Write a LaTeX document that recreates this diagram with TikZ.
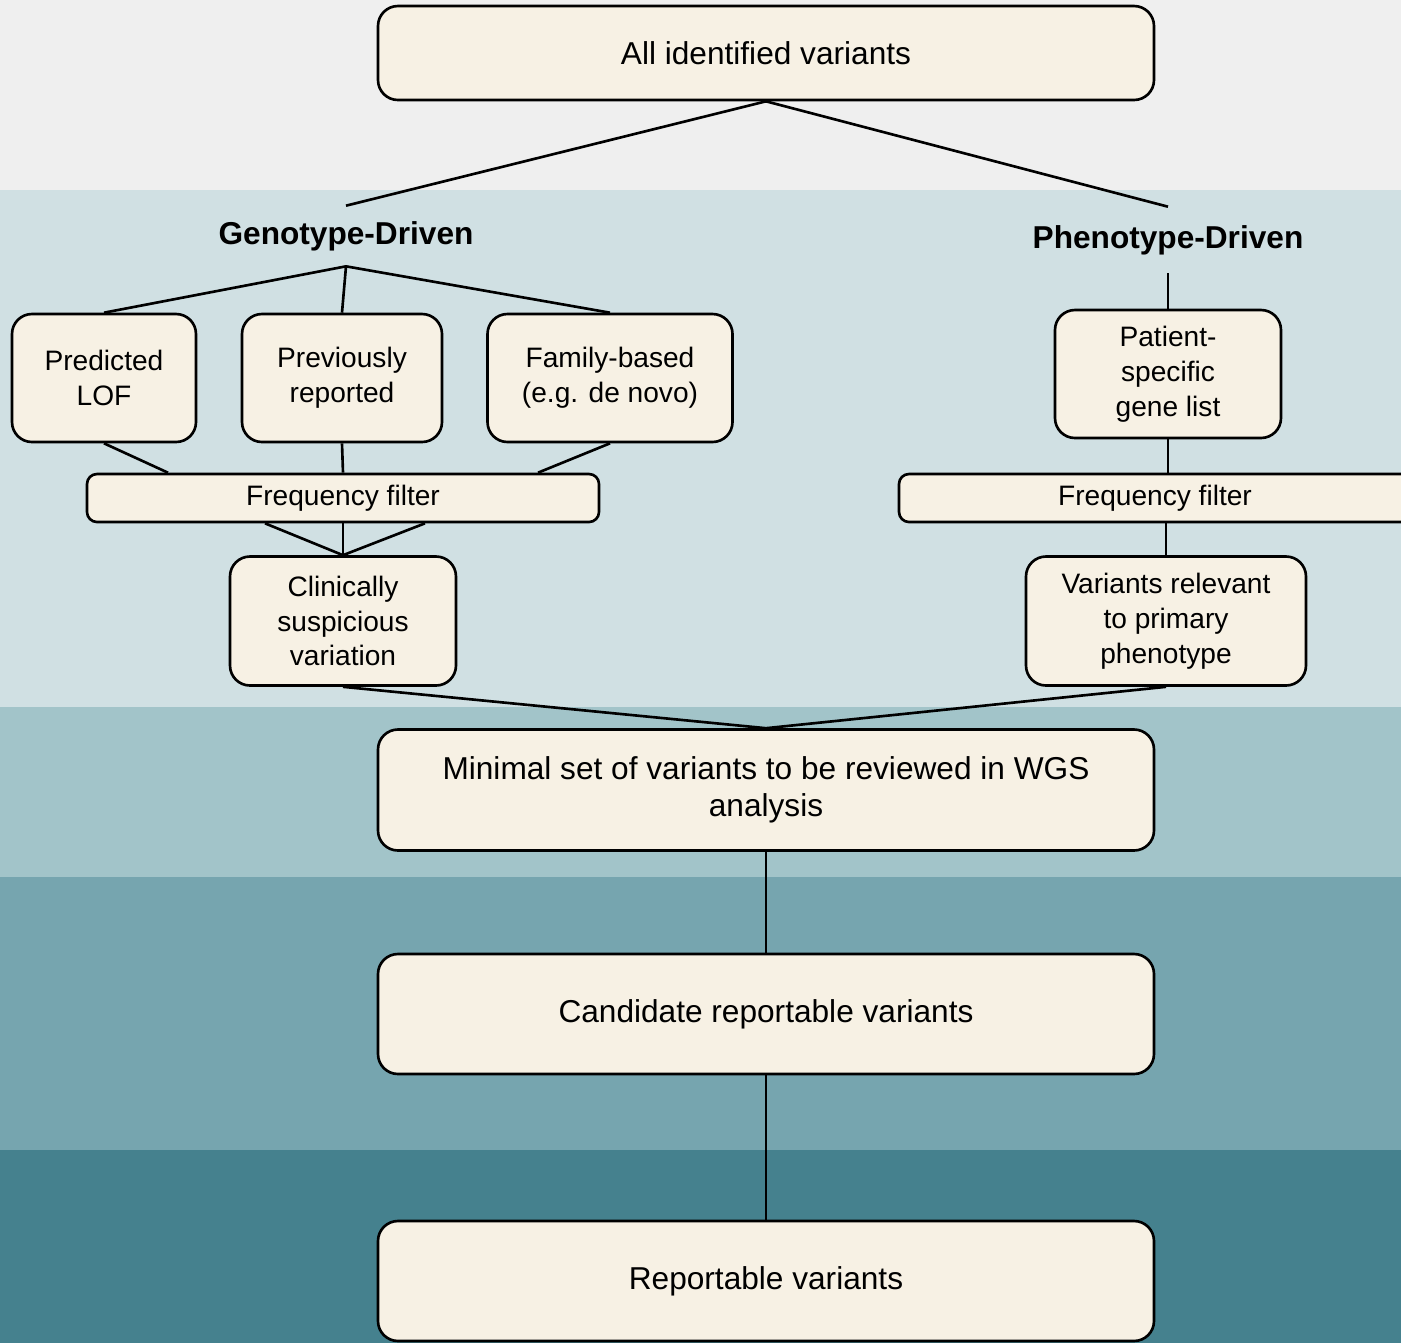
\documentclass[tikz,border=0pt]{standalone}
\usepackage{fontspec}
\setmainfont{Liberation Sans}
\definecolor{bgtop}{HTML}{EFEFEF}
\definecolor{cyanA}{HTML}{D0E0E3}
\definecolor{cyanB}{HTML}{A2C4C9}
\definecolor{cyanC}{HTML}{76A5AF}
\definecolor{cyanD}{HTML}{45818E}
\definecolor{boxfill}{HTML}{F7F1E4}

\begin{document}
\begin{tikzpicture}[x=0.1mm, y=-0.1mm, line width=0.75pt,
		box/.style={draw, fill=boxfill, rounded corners=2mm, align=center, inner sep=0pt, font=\fontsize{8}{9.9}\selectfont},
		bigbox/.style={box, minimum width=77.6mm, font=\fontsize{9}{10.5}\selectfont},
		filterbox/.style={box, rounded corners=1mm, minimum width=51.2mm, minimum height=4.8mm},
		head/.style={inner sep=0pt, font=\fontsize{9}{11}\selectfont\bfseries}]
				%Hintergrund
				\useasboundingbox (0,0) rectangle (1401,1343);
				\fill[bgtop] (0,0) rectangle (1401,190);
				\fill[cyanA] (0,190) rectangle (1401,707);
				\fill[cyanB] (0,707) rectangle (1401,877);
				\fill[cyanC] (0,877) rectangle (1401,1150);
				\fill[cyanD] (0,1150) rectangle (1401,1343);
				% Knoten
				\node[bigbox, minimum height=9.4mm] (all) at (766,53) {All identified variants};
				\node[head, minimum height=5.8mm] (geno) at (346,236) {Genotype-Driven};
				\node[head, minimum height=6.4mm] (pheno) at (1168,240) {Phenotype-Driven};
				\node[box, minimum width=18.4mm, minimum height=12.8mm] (lof) at (104,378) {Predicted\\LOF};
				\node[box, minimum width=20mm, minimum height=12.8mm] (prev) at (342,378) {Previously\\reported};
				\node[box, minimum width=24.5mm, minimum height=12.8mm] (fam) at (610,378) {Family-based\\(e.g. de novo)};
				\node[filterbox] (freqL) at (343,498) {Frequency filter};
				\node[box, minimum width=22.6mm, minimum height=12.9mm] (clin) at (343,621) {Clinically\\suspicious\\variation};
				\node[box, minimum width=22.6mm, minimum height=12.8mm] (gene) at (1168,374) {Patient-\\specific\\gene list};
				\node[filterbox] (freqR) at (1155,498) {Frequency filter};
				\node[box, minimum width=28mm, minimum height=12.9mm] (rel) at (1166,621) {Variants relevant\\to primary\\phenotype};
				\node[bigbox, minimum height=12.1mm] (minimal) at (766,790) {Minimal set of variants to be reviewed in WGS\\analysis};
				\node[bigbox, minimum height=12mm] (cand) at (766,1014) {Candidate reportable variants};
				\node[bigbox, minimum height=12mm] (report) at (766,1281) {Reportable variants};
				% Verbindungen
				\draw (all.south) -- (geno.north);
				\draw (all.south) -- (pheno.north);
				\draw (geno.south) -- (lof.north);
				\draw (geno.south) -- (prev.north);
				\draw (geno.south) -- (fam.north);
				\draw (lof.south) -- ([xshift=-17.5mm]freqL.north);
				\draw (prev.south) -- (freqL.north);
				\draw (fam.south) -- ([xshift=19.5mm]freqL.north);
				\draw ([xshift=-7.8mm]freqL.south) -- (clin.north);
				\draw (freqL.south) -- (clin.north);
				\draw ([xshift=8.2mm]freqL.south) -- (clin.north);
				\draw (pheno.south) -- (gene.north);
				\draw (gene.south) -- (gene.south |- freqR.north);
				\draw (rel.north |- freqR.south) -- (rel.north);
				\draw (clin.south) -- (minimal.north);
				\draw (rel.south) -- (minimal.north);
				\draw (minimal) -- (cand);
				\draw (cand) -- (report);
		\end{tikzpicture}
\end{document}
